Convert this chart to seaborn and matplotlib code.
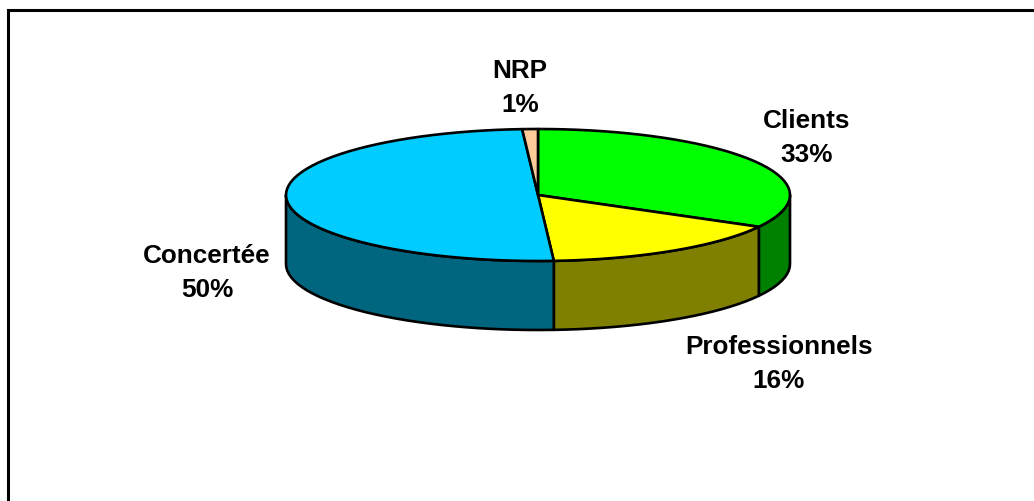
import numpy as np
import matplotlib
matplotlib.use("Agg")
import matplotlib.pyplot as plt
from matplotlib.patches import Polygon
import seaborn as sns

# Data
categories = ["Clients", "Professionnels", "Concertée", "NRP"]
shares = [33, 16, 50, 1]
top_colors = ["#00FF00", "#FFFF00", "#00CCFF", "#FFCC99"]
side_colors = ["#008000", "#808000", "#006680", "#B38F6B"]

sns.set_style("white")
plt.rcParams["font.family"] = ["Liberation Sans", "DejaVu Sans"]

W, H = 1034, 502
fig = plt.figure(figsize=(W / 100, H / 100), dpi=100)
ax = fig.add_axes([0, 0, 1, 1])
ax.set_xlim(0, W)
ax.set_ylim(H, 0)
ax.axis("off")

# Pie geometry (pixel space): ellipse centre, semi-axes, extrusion depth
cx, cy, a, b, depth = 538, 196, 252, 66, 69
lw = 1.9


def rim(t0, t1, dz=0.0, n=120):
    t = np.radians(np.linspace(t0, t1, max(2, int(n * abs(t1 - t0) / 360) + 2)))
    return np.column_stack([cx + a * np.sin(t), cy - b * np.cos(t) + dz])


total = float(sum(shares))
edges = np.concatenate([[0.0], np.cumsum(shares) / total * 360.0])

# Front walls (visible between 90 and 270 degrees, clockwise from top)
for i in range(len(shares)):
    s0, s1 = max(edges[i], 90.0), min(edges[i + 1], 270.0)
    if s1 > s0:
        pts = np.vstack([rim(s0, s1), rim(s1, s0, depth)])
        ax.add_patch(Polygon(pts, closed=True, facecolor=side_colors[i],
                             edgecolor="black", linewidth=lw, joinstyle="round"))

# Top faces
for i in range(len(shares)):
    pts = np.vstack([[cx, cy], rim(edges[i], edges[i + 1])])
    ax.add_patch(Polygon(pts, closed=True, facecolor=top_colors[i],
                         edgecolor="black", linewidth=lw, joinstyle="round"))

# Labels
label_pos = {"Clients": (807, 138), "Professionnels": (779, 364),
             "Concertée": (207, 273), "NRP": (520, 88)}
for cat, val in zip(categories, shares):
    x, y = label_pos[cat]
    ax.text(x, y, f"{cat}\n{val}%", ha="center", va="center", fontsize=18.8,
            fontweight="bold", linespacing=1.52, color="black")

# Chart-area border
ax.plot([8, 8, W + 10], [H + 10, 11, 11], color="black", linewidth=2.2,
        solid_joinstyle="miter", clip_on=False)

fig.savefig("out.png", dpi=100)
